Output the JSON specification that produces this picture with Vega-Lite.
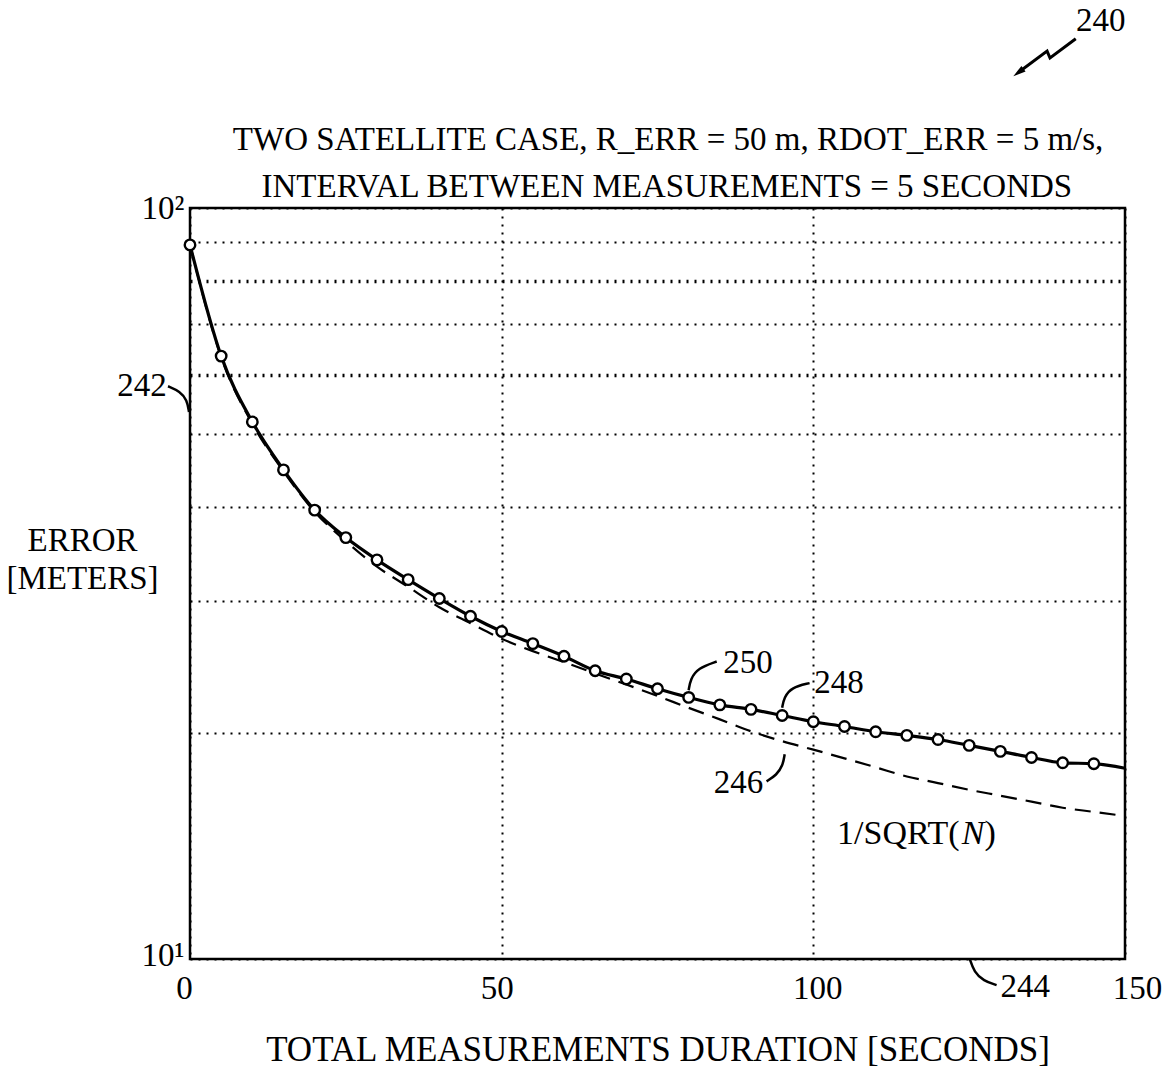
{
  "$schema": "https://vega.github.io/schema/vega-lite/v6.json",
  "width": 935,
  "height": 751,
  "autosize": {"type": "none"},
  "padding": {"left": 190, "top": 208, "right": 38, "bottom": 123},
  "background": "white",
  "config": {
    "view": {"stroke": "black", "strokeWidth": 2.5},
    "font": "Liberation Serif"
  },
  "datasets": {
    "solid": [
      {"t": 0, "v": 89.3, "m": 1}, {"t": 5, "v": 63.5, "m": 1}, {"t": 10, "v": 51.9, "m": 1},
      {"t": 15, "v": 44.8, "m": 1}, {"t": 20, "v": 39.6, "m": 1}, {"t": 25, "v": 36.4, "m": 1},
      {"t": 30, "v": 34.0, "m": 1}, {"t": 35, "v": 32.0, "m": 1}, {"t": 40, "v": 30.2, "m": 1},
      {"t": 45, "v": 28.6, "m": 1}, {"t": 50, "v": 27.3, "m": 1}, {"t": 55, "v": 26.3, "m": 1},
      {"t": 60, "v": 25.3, "m": 1}, {"t": 65, "v": 24.2, "m": 1}, {"t": 70, "v": 23.6, "m": 1},
      {"t": 75, "v": 22.9, "m": 1}, {"t": 80, "v": 22.3, "m": 1}, {"t": 85, "v": 21.8, "m": 1},
      {"t": 90, "v": 21.5, "m": 1}, {"t": 95, "v": 21.1, "m": 1}, {"t": 100, "v": 20.7, "m": 1},
      {"t": 105, "v": 20.4, "m": 1}, {"t": 110, "v": 20.07, "m": 1}, {"t": 115, "v": 19.85, "m": 1},
      {"t": 120, "v": 19.6, "m": 1}, {"t": 125, "v": 19.25, "m": 1}, {"t": 130, "v": 18.9, "m": 1},
      {"t": 135, "v": 18.55, "m": 1}, {"t": 140, "v": 18.25, "m": 1}, {"t": 145, "v": 18.2, "m": 1},
      {"t": 150, "v": 17.95, "m": 0}
    ],
    "dashed": [
      {"t": 0, "v": 89.3}, {"t": 5, "v": 63.3}, {"t": 10, "v": 51.6}, {"t": 15, "v": 44.6},
      {"t": 20, "v": 39.4}, {"t": 25, "v": 36.0}, {"t": 30, "v": 33.3}, {"t": 35, "v": 31.3},
      {"t": 40, "v": 29.4}, {"t": 45, "v": 28.0}, {"t": 50, "v": 26.7}, {"t": 55, "v": 25.7},
      {"t": 60, "v": 24.85}, {"t": 65, "v": 24.0}, {"t": 70, "v": 23.2}, {"t": 75, "v": 22.4},
      {"t": 80, "v": 21.6}, {"t": 85, "v": 20.85}, {"t": 90, "v": 20.1}, {"t": 95, "v": 19.5},
      {"t": 100, "v": 19.0}, {"t": 105, "v": 18.5}, {"t": 110, "v": 18.0}, {"t": 115, "v": 17.5},
      {"t": 120, "v": 17.15}, {"t": 125, "v": 16.8}, {"t": 130, "v": 16.5}, {"t": 135, "v": 16.2},
      {"t": 140, "v": 15.9}, {"t": 145, "v": 15.7}, {"t": 150, "v": 15.5}
    ],
    "leaders": [
      {"id": "242", "o": 0, "t": -3.53, "v": 57.9}, {"id": "242", "o": 1, "t": -1.6, "v": 57.0},
      {"id": "242", "o": 2, "t": -0.48, "v": 55.5}, {"id": "242", "o": 3, "t": -0.16, "v": 53.5},
      {"id": "250", "o": 0, "t": 80, "v": 22.8}, {"id": "250", "o": 1, "t": 80.3, "v": 23.6},
      {"id": "250", "o": 2, "t": 81.5, "v": 24.4}, {"id": "250", "o": 3, "t": 84.5, "v": 24.9},
      {"id": "248", "o": 0, "t": 95, "v": 21.6}, {"id": "248", "o": 1, "t": 95.3, "v": 22.3},
      {"id": "248", "o": 2, "t": 96.5, "v": 23.0}, {"id": "248", "o": 3, "t": 99.4, "v": 23.3},
      {"id": "246", "o": 0, "t": 92.5, "v": 17.24}, {"id": "246", "o": 1, "t": 94.1, "v": 17.58},
      {"id": "246", "o": 2, "t": 95.1, "v": 18.09}, {"id": "246", "o": 3, "t": 95.4, "v": 18.73},
      {"id": "244", "o": 0, "t": 125.1, "v": 10.0}, {"id": "244", "o": 1, "t": 125.8, "v": 9.61},
      {"id": "244", "o": 2, "t": 127.3, "v": 9.35}, {"id": "244", "o": 3, "t": 129.4, "v": 9.23}
    ],
    "arrow": [
      {"o": 0, "t": 142.1, "v": 168.0}, {"o": 1, "t": 137.97, "v": 158.4},
      {"o": 2, "t": 137.5, "v": 161.8}, {"o": 3, "t": 133.2, "v": 152.2}
    ],
    "arrowhead": [{"t": 132.9, "v": 151.5}],
    "labels": [
      {"label": "242", "t": -7.7, "v": 57.9},
      {"label": "250", "t": 89.5, "v": 24.8},
      {"label": "248", "t": 104.1, "v": 23.3},
      {"label": "246", "t": 88.0, "v": 17.13},
      {"label": "244", "t": 134.0, "v": 9.18},
      {"label": "240", "t": 146.1, "v": 177.4}
    ],
    "titles": [
      {"label": "TWO SATELLITE CASE, R_ERR = 50 m, RDOT_ERR = 5 m/s,", "t": 76.7, "v": 119.5},
      {"label": "INTERVAL BETWEEN MEASUREMENTS = 5 SECONDS", "t": 76.5, "v": 103.4}
    ],
    "sqrt": [
      {"label": "1/SQRT(", "t": 103.8, "v": 14.66},
      {"label": ")", "t": 127.45, "v": 14.66}
    ],
    "sqrtN": [{"label": "N", "t": 123.8, "v": 14.66}]
  },
  "encoding": {
    "x": {
      "field": "t", "type": "quantitative",
      "scale": {"domain": [0, 150], "nice": false, "zero": false},
      "axis": {
        "values": [0, 50, 100, 150],
        "grid": true, "gridColor": "black", "gridDash": [2, 6], "gridWidth": 2, "gridOpacity": 1,
        "ticks": false, "domain": false,
        "labelFont": "Liberation Serif", "labelFontSize": 33, "labelColor": "black",
        "labelPadding": 13, "labelFlush": false,
        "labelOffset": {"condition": [{"test": "datum.value == 0", "value": -6}, {"test": "datum.value == 50", "value": -5}, {"test": "datum.value == 150", "value": 12}], "value": 4},
        "title": "TOTAL MEASUREMENTS DURATION [SECONDS]",
        "titleFont": "Liberation Serif", "titleFontSize": 35, "titleFontWeight": "normal",
        "titleColor": "black", "titlePadding": 27
      }
    },
    "y": {
      "field": "v", "type": "quantitative",
      "scale": {"type": "log", "domain": [10, 100], "nice": false},
      "axis": {
        "values": [10, 20, 30, 40, 50, 60, 70, 80, 90, 100],
        "labelExpr": "datum.value == 100 ? '10²' : datum.value == 10 ? '10¹' : ''",
        "labelOffset": {"condition": {"test": "datum.value == 10", "value": -4}, "value": 0},
        "grid": true, "gridColor": "black", "gridDash": [2, 6], "gridOpacity": 1,
        "gridWidth": {"condition": {"test": "datum.value == 80 || datum.value == 60", "value": 3.5}, "value": 2},
        "ticks": false, "domain": false,
        "labelFont": "Liberation Serif", "labelFontSize": 33, "labelColor": "black", "labelPadding": 6,
        "title": ["ERROR", "[METERS]"],
        "titleFont": "Liberation Serif", "titleFontSize": 33, "titleFontWeight": "normal",
        "titleColor": "black", "titleAngle": 0, "titleAlign": "center", "titleBaseline": "middle",
        "titleX": -108, "titleY": 332, "titleLineHeight": 38
      }
    }
  },
  "layer": [
    {
      "data": {"name": "dashed"},
      "mark": {"type": "line", "color": "black", "strokeWidth": 2.2, "strokeDash": [16, 9], "interpolate": "monotone"}
    },
    {
      "data": {"name": "solid"},
      "mark": {"type": "line", "color": "black", "strokeWidth": 3.2, "interpolate": "monotone"}
    },
    {
      "data": {"name": "solid"},
      "transform": [{"filter": "datum.m == 1"}],
      "mark": {"type": "point", "shape": "circle", "filled": true, "fill": "white", "stroke": "black", "strokeWidth": 2.4, "size": 110, "opacity": 1}
    },
    {
      "data": {"name": "leaders"},
      "mark": {"type": "line", "color": "black", "strokeWidth": 2.5, "interpolate": "basis", "clip": false},
      "encoding": {"detail": {"field": "id"}, "order": {"field": "o", "type": "quantitative"}}
    },
    {
      "data": {"name": "arrow"},
      "mark": {"type": "line", "color": "black", "strokeWidth": 3, "clip": false},
      "encoding": {"order": {"field": "o", "type": "quantitative"}}
    },
    {
      "data": {"name": "arrowhead"},
      "mark": {"type": "point", "shape": "M0,-1L0.55,1L-0.55,1Z", "filled": true, "color": "black", "size": 160, "angle": 233.5, "opacity": 1}
    },
    {
      "data": {"name": "labels"},
      "mark": {"type": "text", "font": "Liberation Serif", "fontSize": 33, "color": "black", "align": "center", "baseline": "middle"},
      "encoding": {"text": {"field": "label"}}
    },
    {
      "data": {"name": "titles"},
      "mark": {"type": "text", "font": "Liberation Serif", "fontSize": 33, "color": "black", "align": "center", "baseline": "alphabetic"},
      "encoding": {"text": {"field": "label"}}
    },
    {
      "data": {"name": "sqrt"},
      "mark": {"type": "text", "font": "Liberation Serif", "fontSize": 34, "color": "black", "align": "left", "baseline": "middle"},
      "encoding": {"text": {"field": "label"}}
    },
    {
      "data": {"name": "sqrtN"},
      "mark": {"type": "text", "font": "Liberation Serif", "fontSize": 34, "fontStyle": "italic", "color": "black", "align": "left", "baseline": "middle"},
      "encoding": {"text": {"field": "label"}}
    }
  ]
}
